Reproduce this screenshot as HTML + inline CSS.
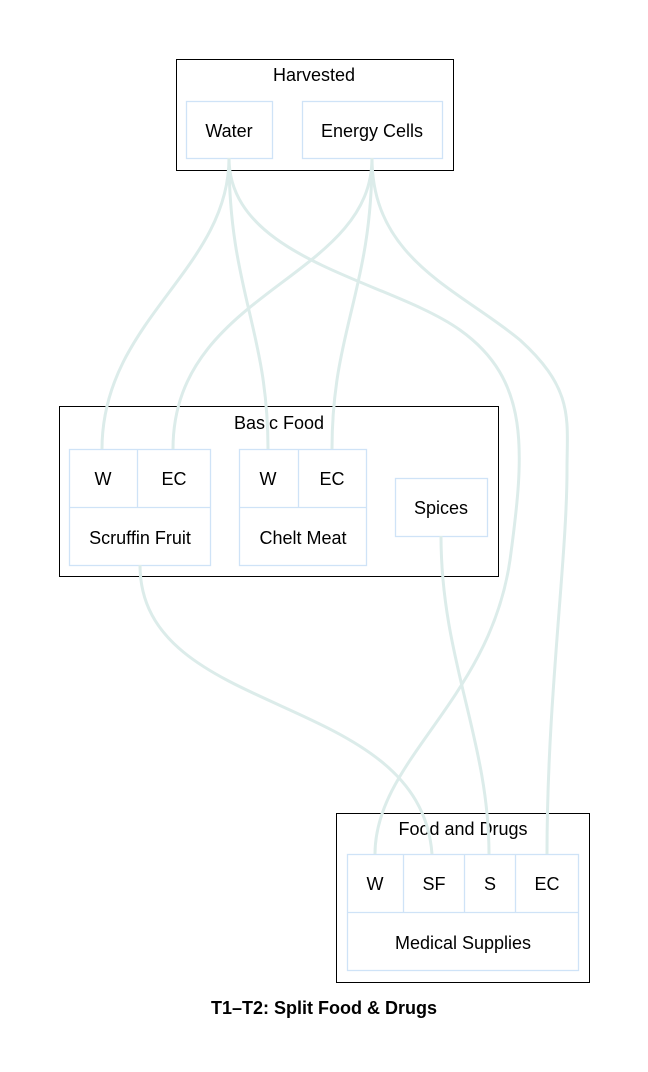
<!DOCTYPE html>
<html><head><meta charset="utf-8"><style>
html,body{margin:0;padding:0;background:#fff;}
svg{display:block;font-family:"Liberation Sans",Arial,sans-serif;}
</style></head><body>
<svg width="648" height="1072" viewBox="0 0 648 1072" xmlns="http://www.w3.org/2000/svg">
<rect width="648" height="1072" fill="#fff"/>
<g fill="none" stroke="#000" stroke-width="1">
<rect x="176.5" y="59.5" width="277" height="111"/>
<rect x="59.5" y="406.5" width="439" height="170"/>
<rect x="336.5" y="813.5" width="253" height="169"/>
</g>
<g font-size="18" fill="#000" text-anchor="middle">
<text x="314" y="81">Harvested</text>
<text x="279" y="429">Basic Food</text>
<text x="463" y="835">Food and Drugs</text>
</g>
<g fill="none" stroke="#cfe3f7" stroke-width="1.3">
<rect x="186.5" y="101.5" width="86" height="57"/>
<rect x="302.5" y="101.5" width="140" height="57"/>
<rect x="69.5" y="449.5" width="141" height="116"/>
<line x1="69.5" y1="507.5" x2="210.5" y2="507.5"/>
<line x1="137.5" y1="449.5" x2="137.5" y2="507.5"/>
<rect x="239.5" y="449.5" width="127" height="116"/>
<line x1="239.5" y1="507.5" x2="366.5" y2="507.5"/>
<line x1="298.5" y1="449.5" x2="298.5" y2="507.5"/>
<rect x="395.5" y="478.5" width="92" height="58"/>
<rect x="347.5" y="854.5" width="231" height="116"/>
<line x1="347.5" y1="912.5" x2="578.5" y2="912.5"/>
<line x1="403.5" y1="854.5" x2="403.5" y2="912.5"/>
<line x1="464.5" y1="854.5" x2="464.5" y2="912.5"/>
<line x1="515.5" y1="854.5" x2="515.5" y2="912.5"/>
</g>
<g font-size="18" fill="#000" text-anchor="middle">
<text x="229" y="137">Water</text>
<text x="372" y="137">Energy Cells</text>
<text x="103" y="485">W</text>
<text x="174" y="485">EC</text>
<text x="140" y="544">Scruffin Fruit</text>
<text x="268" y="485">W</text>
<text x="332" y="485">EC</text>
<text x="303" y="544">Chelt Meat</text>
<text x="441" y="514">Spices</text>
<text x="375" y="890">W</text>
<text x="434" y="890">SF</text>
<text x="490" y="890">S</text>
<text x="547" y="890">EC</text>
<text x="463" y="949">Medical Supplies</text>
</g>
<g fill="none" stroke="#dcecea" stroke-width="3">
<path d="M229,158 C229,270 102,320 102,449"/>
<path d="M229,158 C229,290 268,330 268,449"/>
<path d="M229,158 C229,260 390,280 460,330 C530,380 525,450 510,560 C490,700 375,760 375,854"/>
<path d="M372,158 C372,280 173,290 173,449"/>
<path d="M372,158 C372,290 332,330 332,449"/>
<path d="M372,158 C372,260 460,290 520,340 C575,390 567,420 567,470 C567,560 547,700 547,854"/>
<path d="M140,565 C140,720 420,690 432,854"/>
<path d="M441,536 C441,660 489,740 489,854"/>
</g>
<text x="324" y="1014" font-size="18" font-weight="bold" text-anchor="middle" fill="#000">T1–T2: Split Food &amp; Drugs</text>
</svg>
</body></html>
